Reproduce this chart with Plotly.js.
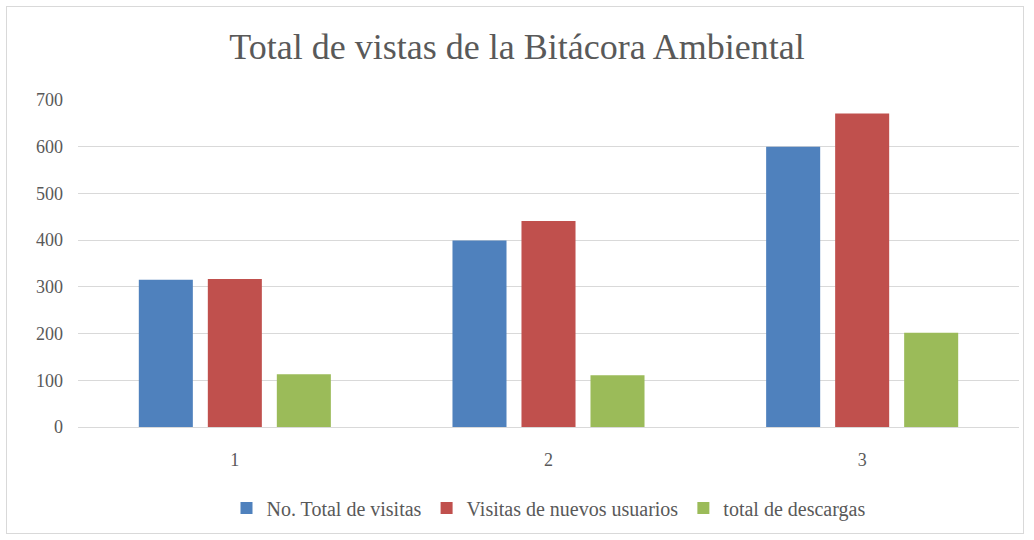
<!DOCTYPE html>
<html>
<head>
<meta charset="utf-8">
<script src="https://cdn.plot.ly/plotly-3.0.1.min.js"></script>
<style>
html,body{margin:0;padding:0;background:#fff;}
#wrap{position:relative;width:1034px;height:540px;}
#chart{width:1034px;height:540px;}
#frame{position:absolute;left:6px;top:6px;width:1018px;height:528px;border:1px solid #d9d9d9;pointer-events:none;box-sizing:border-box;}
</style>
</head>
<body>
<div id="wrap"><div id="chart"></div><div id="frame"></div></div>
<script>
const categories = ["1", "2", "3"];
const seriesNames = ["No. Total de visitas", "Visitas de nuevos usuarios", "total de descargas"];
const totalVisitas = [315, 399, 600];
const nuevosUsuarios = [317, 441, 671];
const descargas = [113, 111, 202];
const yTicks = [0, 100, 200, 300, 400, 500, 600, 700];
const colors = ["#4F81BD", "#C0504D", "#9BBB59"];

const values = [totalVisitas, nuevosUsuarios, descargas];
const data = values.map((v, i) => ({
  type: "bar",
  name: seriesNames[i],
  x: categories,
  y: v,
  marker: {color: colors[i]},
  hoverinfo: "y"
}));

const font = "'Liberation Serif', 'DejaVu Serif', serif";
const layout = {
  width: 1034,
  height: 540,
  margin: {l: 78, r: 15, t: 100, b: 113},
  paper_bgcolor: "#ffffff",
  plot_bgcolor: "#ffffff",
  title: {text: "Total de vistas de la Bitácora Ambiental", x: 0.5, xanchor: "center", y: 0.915, yanchor: "middle", font: {family: font, size: 36, color: "#595959"}},
  barmode: "group",
  bargap: 0.34,
  bargroupgap: 0.217,
  xaxis: {
    type: "category",
    tickvals: categories,
    ticktext: categories,
    tickfont: {family: font, size: 18, color: "#595959"},
    showgrid: false,
    showline: false,
    ticks: "",
    ticklen: 0,
    ticklabelstandoff: 20
  },
  yaxis: {
    range: [0, 700],
    tickvals: yTicks,
    ticktext: yTicks.map(String),
    tickfont: {family: font, size: 18, color: "#595959"},
    gridcolor: "#d9d9d9",
    gridwidth: 1,
    zeroline: true,
    zerolinecolor: "#d9d9d9",
    zerolinewidth: 1,
    showline: false,
    ticks: "",
    ticklabelstandoff: 14
  },
  legend: {
    orientation: "h",
    x: 0.5, xanchor: "center",
    y: -0.248, yanchor: "middle",
    font: {family: font, size: 20, color: "#595959"},
    itemwidth: 30,
    traceorder: "normal"
  },
  showlegend: true
};

Plotly.newPlot("chart", data, layout, {displayModeBar: false, staticPlot: true});
</script>
</body>
</html>
